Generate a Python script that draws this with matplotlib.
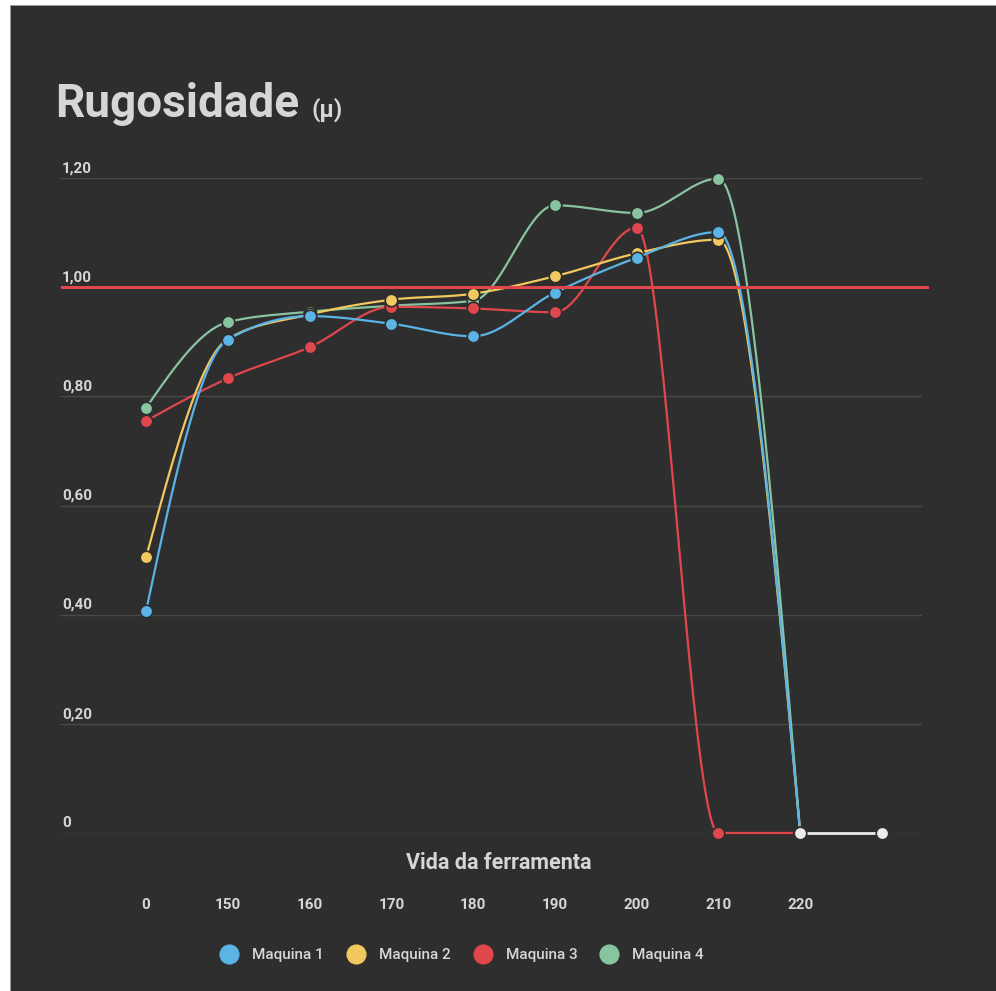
import numpy as np
import matplotlib
matplotlib.use("Agg")
import matplotlib.pyplot as plt
from matplotlib.lines import Line2D
from matplotlib.patches import Rectangle

plt.rcParams["font.family"] = ["Roboto", "DejaVu Sans"]

# dados
vida = ["0", "150", "160", "170", "180", "190", "200", "210", "220", ""]
maquina1 = [0.407, 0.904, 0.947, 0.933, 0.910, 0.990, 1.054, 1.101, 0.0]
maquina2 = [0.505, 0.905, 0.950, 0.977, 0.988, 1.020, 1.062, 1.087, 0.0]
maquina3 = [0.755, 0.833, 0.890, 0.964, 0.961, 0.954, 1.109, 0.0, 0.0]
maquina4 = [0.779, 0.936, 0.955, 0.966, 0.975, 1.150, 1.136, 1.199, 0.0]
fim = [np.nan] * 8 + [0.0, 0.0]
limite = 1.0
y_ticks = [0, 0.2, 0.4, 0.6, 0.8, 1.0, 1.2]
y_labels = ["0", "0,20", "0,40", "0,60", "0,80", "1,00", "1,20"]

nomes = ["Maquina 1", "Maquina 2", "Maquina 3", "Maquina 4"]
cores = ["#5ab4e5", "#f2c95f", "#e0474c", "#89c4a1"]
bg = "#2e2e2e"
txt = "#d6d6d6"


def monotone(y, n=40):
    # curva monotona (estilo d3 monotoneX), x igualmente espacado
    y = np.asarray(y, float)
    x = np.arange(len(y), dtype=float)
    s = np.diff(y)
    t = np.zeros(len(y))
    for i in range(1, len(y) - 1):
        s0, s1 = s[i - 1], s[i]
        p = (s0 + s1) / 2
        t[i] = (np.sign(s0) + np.sign(s1)) * min(abs(s0), abs(s1), 0.5 * abs(p))
    t[0] = (3 * s[0] - t[1]) / 2 if len(y) > 2 else s[0]
    t[-1] = (3 * s[-1] - t[-2]) / 2 if len(y) > 2 else s[-1]
    xs, ys = [], []
    u = np.linspace(0, 1, n)
    h00 = 2 * u**3 - 3 * u**2 + 1
    h10 = u**3 - 2 * u**2 + u
    h01 = -2 * u**3 + 3 * u**2
    h11 = u**3 - u**2
    for i in range(len(y) - 1):
        xs.append(x[i] + u)
        ys.append(h00 * y[i] + h10 * t[i] + h01 * y[i + 1] + h11 * t[i + 1])
    return np.concatenate(xs), np.concatenate(ys)


fig = plt.figure(figsize=(9.96, 9.91), dpi=100, facecolor="white")
fig.patches.append(Rectangle((10 / 996, 0), 1, 1 - 5 / 991, transform=fig.transFigure,
                             facecolor=bg, edgecolor="#9a9a9a", lw=0.6, zorder=-10))

ax = fig.add_axes([60 / 996, 1 - 833 / 991, 862 / 996, 655 / 991])
ax.set_facecolor("none")
ax.set_xlim(-1.053, 9.49)
ax.set_ylim(0, 1.2)
for sp in ax.spines.values():
    sp.set_visible(False)

for v, lab in zip(y_ticks, y_labels):
    ax.axhline(v, color="#484848", lw=1.0, zorder=1)
    ax.text(-1.03, v + 0.005, lab, color=txt, fontsize=11, fontweight="bold",
            ha="left", va="bottom")
ax.set_yticks([])

ax.set_xticks(range(len(vida)))
ax.set_xticklabels(vida, color=txt, fontsize=11, fontweight="bold")
ax.tick_params(axis="x", length=0, pad=47)

series = [maquina1, maquina2, maquina3, maquina4]
zs = [8, 7, 6, 5]
for vals, cor, z in zip(series, cores, zs):
    xs, ys = monotone(vals)
    ax.plot(xs, ys, color=cor, lw=1.6, zorder=z, clip_on=False, solid_capstyle="round")
    ax.plot(range(len(vals)), vals, "o", color=cor, ms=9, mec=bg, mew=1.2,
            zorder=z + 0.5, clip_on=False)

ax.plot(range(len(fim)), fim, "-o", color="#ececec", lw=2, ms=9, mec=bg, mew=1.2,
        zorder=10, clip_on=False)

ax.axhline(limite, xmin=0.002, xmax=1.006, color="#e0474c", lw=2.2, zorder=9, clip_on=False)

fig.text(55 / 996, 1 - 117 / 991, "Rugosidade", color=txt, fontsize=33, fontweight="bold",
         va="baseline", ha="left")
fig.text(311 / 996, 1 - 117 / 991, "(µ)", color=txt, fontsize=17, fontweight="bold",
         va="baseline", ha="left")
fig.text(499 / 996, 1 - 863 / 991, "Vida da ferramenta", color=txt, fontsize=15.5,
         fontweight="bold", ha="center", va="center")

handles = [Line2D([], [], ls="none", marker="o", color=c, ms=13.5) for c in cores]
leg = fig.legend(handles, nomes, loc="center", bbox_to_anchor=(462 / 996, 1 - 955 / 991),
                 ncol=4, frameon=False, handlelength=1.2, handletextpad=0.9,
                 columnspacing=1.5, prop={"size": 11, "weight": "medium"})
for t in leg.get_texts():
    t.set_color(txt)

fig.savefig("out.png", dpi=100, facecolor=fig.get_facecolor())
